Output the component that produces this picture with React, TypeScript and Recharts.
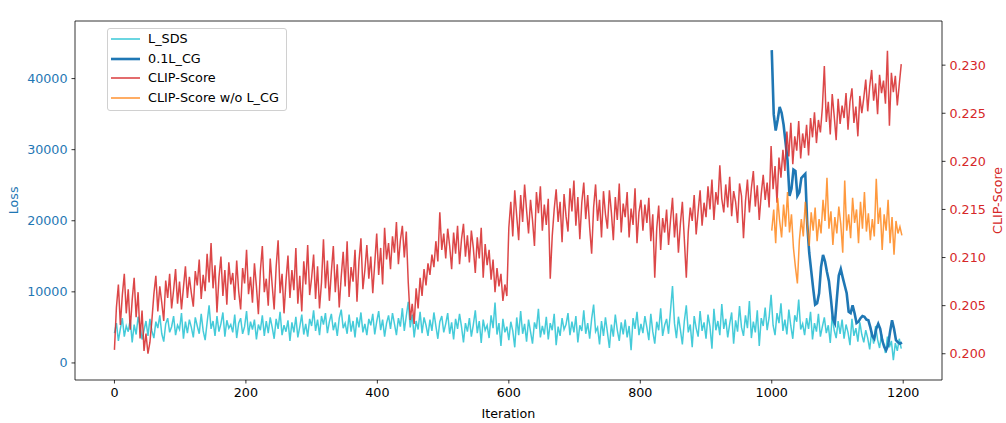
import React from "react";
import { ComposedChart, Line, XAxis, YAxis, Legend, ReferenceLine } from "recharts";

const FONT = "'DejaVu Sans', 'Liberation Sans', sans-serif";

// sampling of the series: one value every 3 iterations
const STEP = 3;
const CG_START = 1000;

// L_SDS loss, iterations 0..1197 (step 3), 10 values = 30 iterations per row
const sdsLoss = [
  4200, 5600, 3100, 4800, 6300, 3700, 5200, 4400, 6100, 2900,
  5400, 4000, 6500, 5100, 3300, 4600, 5900, 3800, 6200, 4500,
  3500, 5800, 4900, 6700, 4100, 3000, 5500, 6300, 4300, 5100,
  6600, 3900, 5300, 4700, 7000, 3400, 5800, 4200, 6100, 5000,
  3600, 6400, 5200, 4100, 6900, 4500, 3200, 5700, 8100, 4800,
  5900, 3800, 6600, 4400, 5500, 7100, 3700, 6000, 4900, 5400,
  4300, 6800, 3500, 5600, 6300, 4100, 5100, 7300, 3900, 5800,
  4700, 6100, 3300, 5400, 4600, 6700, 3800, 5900, 4200, 6400,
  5000, 3400, 6200, 4800, 7200, 3900, 5300, 4400, 6000, 3100,
  5700, 4300, 6500, 3600, 5100, 6800, 4000, 5500, 3700, 6200,
  5200, 7400, 4500, 6100, 3900, 6600, 5400, 7000, 4200, 5800,
  6900, 4600, 5700, 3800, 6300, 7500, 4900, 5600, 4100, 6800,
  4400, 5900, 3600, 6400, 5000, 7100, 4300, 5500, 3900, 6200,
  5300, 6900, 4000, 5800, 7300, 4600, 6100, 3700, 5600, 6700,
  4800, 7000, 5500, 3900, 6300, 5100, 7700, 4500, 6600, 8600,
  5000, 6800, 3600, 5900, 4700, 7200, 4200, 6400, 5300, 3800,
  6100, 4500, 7100, 5200, 3400, 5800, 6600, 4300, 5500, 7000,
  4100, 5700, 3300, 6200, 4800, 6900, 5100, 2900, 5600, 4400,
  6300, 3700, 5400, 7400, 4200, 5900, 2800, 6100, 4600, 5300,
  3500, 6700, 4900, 8500, 4000, 5600, 2400, 6200, 4300, 5100,
  3200, 5800, 4500, 2200, 6400, 3900, 7300, 4100, 5500, 3000,
  6100, 4400, 2700, 5700, 4800, 7600, 3600, 5200, 4000, 6500,
  3300, 5600, 4600, 6900, 2500, 5100, 3800, 6300, 4700, 5400,
  7000, 3900, 5800, 4300, 6600, 2900, 5300, 4500, 7400, 4100,
  5600, 3400, 6200, 8200, 4400, 5000, 2600, 5900, 3800, 6400,
  4300, 2100, 5400, 3700, 6800, 4600, 3100, 5700, 4000, 6100,
  3600, 5200, 1800, 6300, 4800, 7200, 3900, 5500, 4200, 6600,
  5000, 3200, 6900, 4400, 2700, 5800, 4600, 7700, 3800, 5300,
  6200, 4100, 7400, 10800, 5600, 3500, 6500, 4700, 2600, 5900,
  8100, 4300, 5400, 2200, 6600, 4900, 3700, 7300, 4500, 5700,
  3400, 6800, 5100, 2000, 7600, 4600, 5900, 3900, 8300, 4800,
  6200, 3600, 5500, 7100, 2700, 6000, 4400, 8000, 5000, 3800,
  6700, 4900, 8700, 3500, 5800, 4300, 7400, 2400, 6300, 5200,
  7800, 4600, 6400, 9600, 5300, 3900, 7000, 5600, 8400, 4500,
  6100, 4000, 7500, 5200, 3400, 6700, 5800, 8900, 4700, 5500,
  3900, 6300, 4800, 7200, 3300, 5600, 4400, 6900, 3700, 5100,
  6400, 4200, 5300, 2800, 6700, 4600, 3500, 5900, 4100, 6100,
  3400, 5400, 4300, 2500, 6200, 3800, 4900, 3000, 5700, 4000,
  2900, 4600, 3500, 1900, 4400, 2700, 5200, 3300, 2100, 4000,
  2600, 1400, 3700, 2200, 3100, 400, 2800, 1700, 3400, 2000,
];

// CLIP-Score, iterations 0..1197 (step 3)
const clipScore = [
  0.2004, 0.2048, 0.2072, 0.203, 0.2061, 0.2083, 0.2042, 0.2067, 0.2025, 0.2056,
  0.2079, 0.2038, 0.2064, 0.2016, 0.2045, 0.2003, 0.2021, 0.2, 0.2012, 0.2035,
  0.2062, 0.2081, 0.2044, 0.207, 0.2053, 0.2034, 0.2076, 0.2058, 0.2083, 0.2047,
  0.2066, 0.2088, 0.2052, 0.2075, 0.2046, 0.2069, 0.2091, 0.2058, 0.208, 0.2063,
  0.2049, 0.2086, 0.2071, 0.2098, 0.2057, 0.2082, 0.2065, 0.2104, 0.2074, 0.2115,
  0.2068, 0.2092, 0.2043, 0.2079, 0.2101, 0.206, 0.2087, 0.2051, 0.2095, 0.2072,
  0.2084, 0.2056, 0.2097, 0.2065, 0.2046, 0.2089, 0.2073, 0.2108, 0.2062, 0.208,
  0.2053, 0.2094, 0.207, 0.2041, 0.2086, 0.2112, 0.2064, 0.2078, 0.205, 0.2099,
  0.2071, 0.2046, 0.209, 0.2118, 0.2063, 0.2083, 0.2042, 0.2076, 0.2102, 0.2058,
  0.2087, 0.2066, 0.211, 0.2052, 0.2081, 0.2044, 0.2096, 0.2072, 0.2113, 0.2061,
  0.2079, 0.2103, 0.2057, 0.2091, 0.2047, 0.2074, 0.2119, 0.2068, 0.2097, 0.2055,
  0.2085, 0.2112, 0.2064, 0.2093, 0.2048, 0.208, 0.2106, 0.207, 0.2117, 0.2059,
  0.209, 0.2075, 0.2108, 0.2054, 0.2096, 0.212, 0.2067, 0.2087, 0.2113, 0.2078,
  0.2101, 0.2063, 0.2094, 0.2125, 0.2082, 0.211, 0.2072, 0.2131, 0.2098, 0.2115,
  0.2088, 0.2122, 0.2105, 0.2137, 0.2093, 0.2118, 0.2133, 0.21, 0.2127, 0.2074,
  0.2035, 0.2052, 0.2031, 0.2068, 0.2047, 0.2079, 0.206, 0.2088, 0.2071, 0.2094,
  0.2082, 0.2103, 0.209, 0.2117, 0.2096, 0.2147, 0.2108, 0.2125, 0.2099, 0.213,
  0.2112, 0.2088, 0.2126, 0.2104, 0.2133, 0.2093, 0.2119, 0.2135, 0.2101, 0.2123,
  0.2095, 0.2128, 0.211, 0.2084, 0.2121, 0.2099, 0.2131, 0.2079, 0.2114, 0.2092,
  0.2108, 0.2077, 0.2098, 0.2064, 0.2089, 0.207, 0.2083, 0.2055, 0.2072, 0.206,
  0.2131, 0.2158, 0.2122, 0.217, 0.2143, 0.2118, 0.2165, 0.2137, 0.2176, 0.2149,
  0.2125, 0.216, 0.2139, 0.2112, 0.2168, 0.2146, 0.2174, 0.2128, 0.2155, 0.2134,
  0.2161, 0.2078, 0.2122, 0.215, 0.2171, 0.2137, 0.2158, 0.2116, 0.2166, 0.2143,
  0.2127, 0.2172, 0.2148, 0.218, 0.2133, 0.2163, 0.2119, 0.2157, 0.2178, 0.214,
  0.2165, 0.2131, 0.2104, 0.2152, 0.2176, 0.2138, 0.216, 0.2121, 0.2169, 0.2145,
  0.213, 0.217, 0.2147, 0.2118, 0.2163, 0.2139, 0.2177, 0.2126, 0.2156, 0.2142,
  0.2168, 0.2121, 0.2151, 0.2134, 0.2172, 0.2115, 0.2147, 0.216, 0.2128, 0.2155,
  0.2136, 0.2162, 0.2117, 0.2145, 0.2079, 0.213, 0.2154, 0.2108, 0.2141, 0.2126,
  0.215, 0.2113, 0.2139, 0.2162, 0.2121, 0.2146, 0.2105, 0.2135, 0.2158, 0.2119,
  0.2079, 0.2127, 0.2152, 0.2138, 0.2165, 0.2124, 0.2148, 0.217, 0.2133, 0.2157,
  0.2142, 0.2174, 0.215, 0.2181, 0.2139, 0.2168, 0.2155, 0.2196, 0.2161, 0.2147,
  0.2176, 0.2152, 0.2184, 0.2143, 0.2169, 0.2158, 0.2136, 0.2177, 0.2164, 0.212,
  0.2158, 0.2181, 0.2147, 0.2172, 0.219, 0.2153, 0.2175, 0.2139, 0.2166, 0.2186,
  0.216, 0.2178, 0.2152, 0.2216, 0.2171, 0.2195, 0.2157, 0.2204, 0.2183, 0.2212,
  0.219, 0.2231, 0.2205, 0.224, 0.2197, 0.2226, 0.2211, 0.2242, 0.2203, 0.2229,
  0.2214, 0.2238, 0.2206, 0.2245, 0.2225, 0.2251, 0.2219, 0.2243, 0.223, 0.2256,
  0.2299, 0.2241, 0.2262, 0.2228, 0.227, 0.2247, 0.2222, 0.2265, 0.2239, 0.2258,
  0.2245, 0.2271, 0.2233, 0.2262, 0.2276, 0.224, 0.2257, 0.2226, 0.2268, 0.225,
  0.2266, 0.2285, 0.2252, 0.2278, 0.2295, 0.2263, 0.2281, 0.2249, 0.229, 0.2271,
  0.2284, 0.226, 0.2315, 0.2237, 0.2292, 0.2272, 0.2289, 0.2258, 0.228, 0.2301,
];

// 0.1 * L_CG, iterations 1000..1198 (step 3)
const cgLoss = [
  44000, 35000, 32700, 34200, 36000, 35200, 33500, 31000, 28500, 23500,
  24500, 27200, 27000, 23500, 24000, 26000, 26300, 26600, 19500, 15500,
  13000, 10500, 8200, 8400, 9800, 13500, 15200, 14300, 12800, 11500,
  9000, 6200, 5600, 9000, 12300, 13200, 12000, 10900, 9800, 7200,
  7000, 8100, 7000, 5600, 5800, 6300, 6600, 6500, 6100, 6000,
  5000, 3800, 3400, 4800, 5500, 4800, 3200, 2300, 1800, 2500,
  4400, 6000, 4800, 3200, 2900, 2700, 2900,
];

// CLIP-Score without L_CG, iterations 1000..1198 (step 3)
const clipNoCg = [
  0.2128, 0.215, 0.2115, 0.2162, 0.2138, 0.2121, 0.2155, 0.2132, 0.2168, 0.2126,
  0.2145, 0.211, 0.209, 0.2073, 0.2118, 0.214, 0.2122, 0.2158, 0.2133, 0.2112,
  0.2147, 0.2128, 0.2152, 0.2117, 0.214, 0.2125, 0.216, 0.2138, 0.2183, 0.213,
  0.2148, 0.2113, 0.2142, 0.2125, 0.2153, 0.2135, 0.2105, 0.218, 0.2128, 0.2145,
  0.212, 0.2162, 0.2136, 0.215, 0.2115, 0.2158, 0.213, 0.2168, 0.2127, 0.2146,
  0.2118, 0.214, 0.2122, 0.2182, 0.2135, 0.2152, 0.2108, 0.2145, 0.2128, 0.216,
  0.2115, 0.2142, 0.2103, 0.2138, 0.2125, 0.2132, 0.2123,
];

const xTicks = [0, 200, 400, 600, 800, 1000, 1200];
const lossTicks = [0, 10000, 20000, 30000, 40000];
const clipTicks = [0.2, 0.205, 0.21, 0.215, 0.22, 0.225, 0.23];

const X_DOMAIN = [-60, 1259];
const LOSS_DOMAIN = [-2400, 48100];
const CLIP_DOMAIN = [0.19727, 0.23459];

const mainData = sdsLoss.map((v, i) => ({ iter: i * STEP, sds: v, clip: clipScore[i] }));
const lateData = cgLoss.map((v, i) => ({ iter: CG_START + i * STEP, cg: v, clipNo: clipNoCg[i] }));

const C_CYAN = "#17becf";
const C_BLUE = "#1f77b4";
const C_RED = "#d62728";
const C_ORANGE = "#ff7f0e";

const legendItems = [
  { name: "L_SDS", color: C_CYAN, width: 1.6, opacity: 0.8 },
  { name: "0.1L_CG", color: C_BLUE, width: 2.6, opacity: 1 },
  { name: "CLIP-Score", color: C_RED, width: 1.6, opacity: 0.85 },
  { name: "CLIP-Score w/o L_CG", color: C_ORANGE, width: 1.6, opacity: 0.8 },
];

const renderLegend = () => (
  <div
    style={{
      border: "1px solid #d0d0d0",
      borderRadius: 3,
      background: "rgba(255,255,255,0.8)",
      padding: "0 7px 2px 2px",
      fontFamily: FONT,
      fontSize: 12.8,
      color: "#000",
      lineHeight: "19.7px",
      boxSizing: "content-box",
    }}
  >
    {legendItems.map((it) => (
      <div key={it.name} style={{ display: "flex", alignItems: "center", height: 19.7, whiteSpace: "nowrap" }}>
        <svg width={30} height={10} style={{ display: "block" }}>
          <line x1={1} x2={30} y1={5} y2={5} stroke={it.color} strokeOpacity={it.opacity} strokeWidth={it.width} />
        </svg>
        <span style={{ marginLeft: 8 }}>{it.name}</span>
      </div>
    ))}
  </div>
);

const tickFont = { fontFamily: FONT, fontSize: 12.7 };

export default function App() {
  return (
    <div style={{ position: "absolute", left: 0, top: 0, width: 1006, height: 423, background: "#fff" }}>
      <ComposedChart width={1006} height={423} margin={{ top: 21, right: 0, bottom: 0, left: 0 }}>
        <XAxis
          dataKey="iter"
          type="number"
          domain={X_DOMAIN}
          allowDataOverflow
          ticks={xTicks}
          interval={0}
          height={43}
          tick={{ ...tickFont, fill: "#000" }}
          tickSize={3.5}
          tickMargin={4}
          tickLine={{ stroke: "#000", strokeWidth: 0.8 }}
          axisLine={{ stroke: "#000", strokeWidth: 0.8 }}
          label={() => (
            <text x={508.5} y={418} textAnchor="middle" fontFamily={FONT} fontSize={12.7} fill="#000">
              Iteration
            </text>
          )}
        />
        <XAxis
          xAxisId="top"
          orientation="top"
          dataKey="iter"
          type="number"
          domain={X_DOMAIN}
          allowDataOverflow
          height={0}
          tick={false}
          tickLine={false}
          axisLine={false}
          label={() => (
            <text x={508.5} y={14} textAnchor="middle" fontFamily={FONT} fontSize={15.3} fill="#000">
              Loss and CLIP-Score vs Iteration
            </text>
          )}
        />
        <YAxis
          yAxisId="loss"
          orientation="left"
          type="number"
          domain={LOSS_DOMAIN}
          allowDataOverflow
          ticks={lossTicks}
          interval={0}
          width={75}
          tick={{ ...tickFont, fill: C_BLUE }}
          tickSize={3.5}
          tickMargin={4}
          tickLine={{ stroke: "#000", strokeWidth: 0.8 }}
          axisLine={{ stroke: "#000", strokeWidth: 0.8 }}
          label={() => (
            <text
              x={18}
              y={200.4}
              textAnchor="middle"
              transform="rotate(-90 18 200.4)"
              fontFamily={FONT}
              fontSize={12.7}
              fill={C_BLUE}
            >
              Loss
            </text>
          )}
        />
        <YAxis
          yAxisId="clip"
          orientation="right"
          type="number"
          domain={CLIP_DOMAIN}
          allowDataOverflow
          ticks={clipTicks}
          interval={0}
          width={64}
          tickFormatter={(v: number) => v.toFixed(3)}
          tick={{ ...tickFont, fill: C_RED }}
          tickSize={3.5}
          tickMargin={4}
          tickLine={{ stroke: "#000", strokeWidth: 0.8 }}
          axisLine={{ stroke: "#000", strokeWidth: 0.8 }}
          label={() => (
            <text
              x={1002}
              y={200.4}
              textAnchor="middle"
              transform="rotate(-90 1002 200.4)"
              fontFamily={FONT}
              fontSize={12.7}
              fill={C_RED}
            >
              CLIP-Score
            </text>
          )}
        />
        <ReferenceLine yAxisId="loss" y={LOSS_DOMAIN[1]} stroke="#000" strokeWidth={0.8} ifOverflow="visible" />
        <Line
          yAxisId="loss"
          data={mainData}
          dataKey="sds"
          name="L_SDS"
          type="linear"
          stroke={C_CYAN}
          strokeOpacity={0.8}
          strokeWidth={1.5}
          dot={false}
          activeDot={false}
          isAnimationActive={false}
        />
        <Line
          yAxisId="loss"
          data={lateData}
          dataKey="cg"
          name="0.1L_CG"
          type="linear"
          stroke={C_BLUE}
          strokeWidth={2.6}
          dot={false}
          activeDot={false}
          isAnimationActive={false}
        />
        <Line
          yAxisId="clip"
          data={mainData}
          dataKey="clip"
          name="CLIP-Score"
          type="linear"
          stroke={C_RED}
          strokeOpacity={0.85}
          strokeWidth={1.5}
          dot={false}
          activeDot={false}
          isAnimationActive={false}
        />
        <Line
          yAxisId="clip"
          data={lateData}
          dataKey="clipNo"
          name="CLIP-Score w/o L_CG"
          type="linear"
          stroke={C_ORANGE}
          strokeOpacity={0.8}
          strokeWidth={1.5}
          dot={false}
          activeDot={false}
          isAnimationActive={false}
        />
        <Legend
          layout="vertical"
          align="center"
          verticalAlign="middle"
          content={renderLegend}
          wrapperStyle={{ left: 107, top: 28, width: "auto", height: "auto" }}
        />
      </ComposedChart>
    </div>
  );
}
